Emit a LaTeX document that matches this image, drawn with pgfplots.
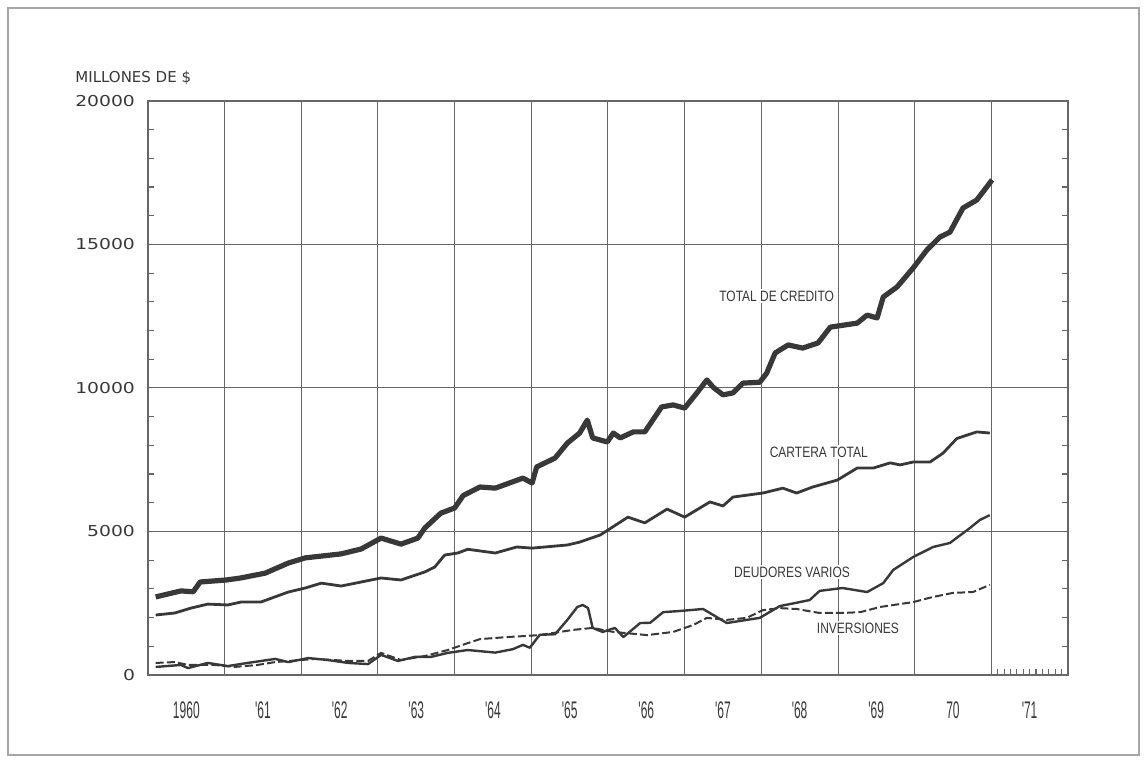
\documentclass[border=0pt]{standalone}
\usepackage{fontspec}
\setmainfont{DejaVu Sans}
\newfontfamily\yfont[FakeStretch=1.25]{DejaVu Sans}
\newfontfamily\xfont[FakeStretch=0.5]{Liberation Sans}
\newfontfamily\lfont[FakeStretch=0.8]{Liberation Sans}
\usepackage{pgfplots}
\pgfplotsset{compat=1.18}
\definecolor{ink}{gray}{0.22}
\definecolor{gridc}{gray}{0.40}

\begin{document}
\begin{tikzpicture}
  \useasboundingbox (-74pt,-44pt) rectangle (499.5pt,337.5pt);
  \draw[gray!70, line width=0.6pt] (-70pt,-40pt) rectangle (495.5pt,333.5pt);
  \begin{axis}[
      scale only axis,
      width=460pt, height=287pt,
      at={(0,0)}, anchor=south west,
      xmin=1960, xmax=1972,
      ymin=0, ymax=20000,
      scaled y ticks=false,
      xtick={1960,1961,...,1972},
      xticklabels={},
      extra x ticks={1960.5,1961.5,...,1971.5},
      extra x tick labels={1960,'61,'62,'63,'64,'65,'66,'67,'68,'69,70,'71},
      extra x tick style={grid=none, major tick length=0pt,
        tick label style={font=\xfont\fontsize{12}{14}\selectfont, text=ink, yshift=-10pt}},
      minor xtick={1971.0833,1971.1667,1971.25,1971.3333,1971.4167,1971.5,1971.5833,1971.6667,1971.75,1971.8333,1971.9167},
      ytick={0,5000,10000,15000,20000},
      yticklabels={0,5000,10000,15000,20000},
      yticklabel style={font=\yfont\fontsize{7.5}{9}\selectfont, text=ink, xshift=-3pt},
      minor y tick num=4,
      xtick pos=left, ytick pos=both,
      tick align=inside,
      major tick length=0pt,
      minor tick length=3pt,
      minor tick style={gridc, line width=0.6pt},
      xmajorgrids, ymajorgrids,
      grid style={gridc, line width=0.5pt},
      axis line style={gridc, line width=0.6pt},
      clip=false,
    ]
    % --- TOTAL DE CREDITO ---
    \addplot[ink, line width=2.6pt, line join=round] coordinates {
      (1960.10,2720) (1960.43,2930) (1960.59,2900) (1960.68,3240) (1961.02,3310)
      (1961.21,3380) (1961.53,3550) (1961.83,3900) (1962.05,4080) (1962.52,4220)
      (1962.78,4390) (1963.04,4770) (1963.30,4560) (1963.52,4770) (1963.61,5120)
      (1963.82,5640) (1964.00,5820) (1964.11,6250) (1964.33,6550) (1964.53,6510)
      (1964.89,6860) (1965.01,6690) (1965.07,7250) (1965.31,7560) (1965.47,8080)
      (1965.63,8430) (1965.73,8880) (1965.80,8260) (1965.99,8120) (1966.07,8430)
      (1966.16,8260) (1966.33,8470) (1966.48,8470) (1966.70,9340) (1966.85,9410)
      (1967.00,9300) (1967.16,9830) (1967.29,10280) (1967.37,10030) (1967.50,9760)
      (1967.63,9830) (1967.76,10170) (1967.98,10200) (1968.07,10520) (1968.18,11220)
      (1968.35,11500) (1968.54,11390) (1968.74,11570) (1968.90,12120) (1969.25,12260)
      (1969.38,12540) (1969.51,12440) (1969.59,13170) (1969.77,13520) (1969.98,14180)
      (1970.16,14810) (1970.33,15260) (1970.46,15430) (1970.63,16270) (1970.81,16550)
      (1971.01,17250)
    };
    % --- CARTERA TOTAL ---
    \addplot[ink, line width=1.4pt, line join=round] coordinates {
      (1960.10,2090) (1960.35,2160) (1960.56,2330) (1960.78,2470) (1961.04,2440)
      (1961.21,2540) (1961.47,2540) (1961.83,2890) (1962.05,3030) (1962.26,3200)
      (1962.52,3100) (1962.78,3240) (1963.04,3380) (1963.30,3310) (1963.61,3590)
      (1963.74,3760) (1963.87,4180) (1964.04,4250) (1964.17,4380) (1964.53,4250)
      (1964.81,4460) (1965.01,4420) (1965.47,4530) (1965.63,4630) (1965.90,4880)
      (1966.26,5500) (1966.48,5300) (1966.77,5780) (1967.00,5500) (1967.33,6030)
      (1967.50,5890) (1967.63,6200) (1968.02,6340) (1968.28,6510) (1968.46,6340)
      (1968.67,6550) (1968.99,6790) (1969.25,7210) (1969.46,7210) (1969.68,7390)
      (1969.81,7320) (1969.98,7420) (1970.20,7420) (1970.37,7730) (1970.55,8240)
      (1970.81,8470) (1970.98,8430)
    };
    % --- DEUDORES VARIOS ---
    \addplot[ink, line width=1.2pt, line join=round] coordinates {
      (1960.10,280) (1960.43,350) (1960.52,240) (1960.78,420) (1961.04,310)
      (1961.30,420) (1961.66,560) (1961.83,450) (1962.09,590) (1962.35,520)
      (1962.61,420) (1962.87,380) (1963.04,700) (1963.26,490) (1963.48,630)
      (1963.69,630) (1963.91,770) (1964.17,870) (1964.53,780) (1964.76,900)
      (1964.89,1050) (1964.98,950) (1965.11,1400) (1965.31,1420) (1965.47,1920)
      (1965.60,2370) (1965.67,2440) (1965.74,2330) (1965.80,1640) (1965.93,1500)
      (1966.09,1640) (1966.20,1320) (1966.42,1810) (1966.55,1820) (1966.72,2190)
      (1966.94,2230) (1967.24,2300) (1967.55,1810) (1967.81,1920) (1967.98,1990)
      (1968.24,2400) (1968.63,2610) (1968.76,2930) (1969.06,3030) (1969.38,2890)
      (1969.59,3200) (1969.72,3660) (1969.98,4110) (1970.24,4460) (1970.46,4600)
      (1970.72,5120) (1970.85,5400) (1970.98,5570)
    };
    % --- INVERSIONES ---
    \addplot[ink, line width=1.0pt, dash pattern=on 4pt off 1.6pt] coordinates {
      (1960.10,420) (1960.35,450) (1960.52,350) (1960.87,350) (1961.13,280)
      (1961.43,350) (1961.66,450) (1962.18,560) (1962.61,490) (1962.87,490)
      (1963.04,770) (1963.30,520) (1963.61,660) (1963.91,870) (1964.17,1110)
      (1964.33,1250) (1964.68,1320) (1965.11,1390) (1965.54,1570) (1965.80,1640)
      (1966.07,1500) (1966.51,1390) (1966.85,1500) (1967.11,1740) (1967.29,1990)
      (1967.55,1920) (1967.81,1990) (1968.02,2260) (1968.24,2330) (1968.46,2300)
      (1968.76,2160) (1969.06,2160) (1969.29,2190) (1969.55,2370) (1969.98,2540)
      (1970.24,2720) (1970.50,2860) (1970.76,2890) (1970.98,3140)
    };
    \begin{scope}[every node/.style={font=\lfont\fontsize{7.5}{9}\selectfont, text=ink, fill=white, inner sep=1pt}]
      \node at (axis cs:1968.20,13200) {TOTAL DE CREDITO};
      \node at (axis cs:1968.75,7770) {CARTERA TOTAL};
      \node at (axis cs:1968.40,3590) {DEUDORES VARIOS};
      \node at (axis cs:1969.26,1640) {INVERSIONES};
    \end{scope}
  \end{axis}
  \node[anchor=west, font=\fontsize{7.5}{9}\selectfont, text=ink, inner sep=0pt]
    at ([shift={(-36.5pt,11.5pt)}]current axis.north west) {MILLONES DE \$};
\end{tikzpicture}
\end{document}
